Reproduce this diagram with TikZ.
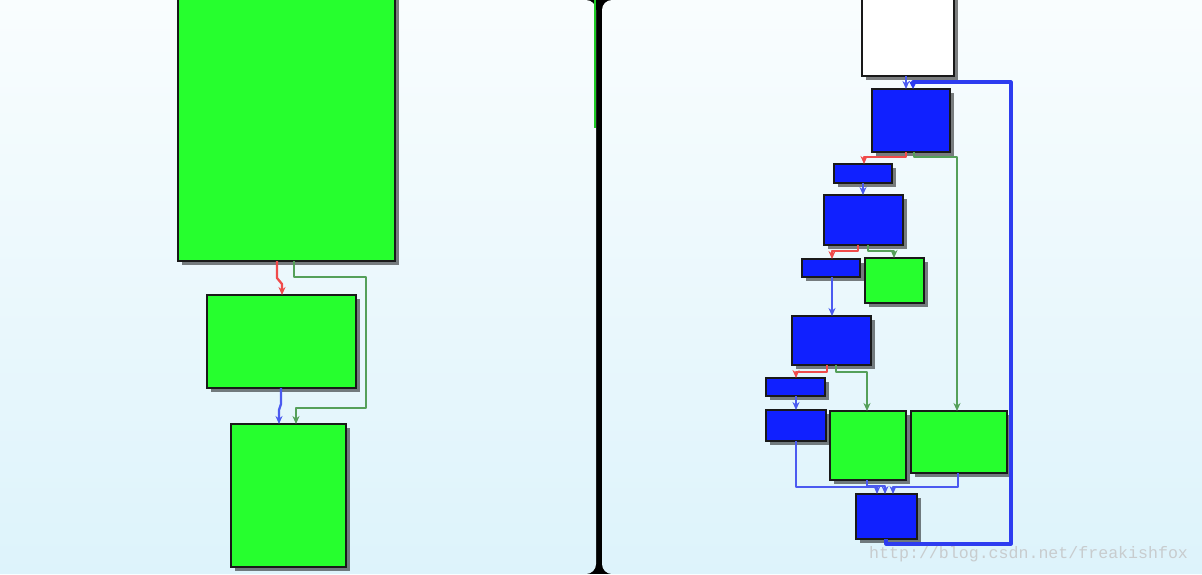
\documentclass[tikz,border=0pt]{standalone}
\usepackage{fontspec}
\newfontfamily\wmfont{Liberation Mono}
\usetikzlibrary{shadows,arrows.meta}
\definecolor{gfill}{RGB}{38,255,46}
\definecolor{bfill}{RGB}{16,32,255}
\definecolor{redE}{RGB}{240,75,75}
\definecolor{greenE}{RGB}{85,160,90}
\definecolor{blueE}{RGB}{75,90,240}
\definecolor{backE}{RGB}{45,60,240}
\definecolor{bgtop}{RGB}{249,253,254}
\definecolor{bgbot}{RGB}{221,243,251}
\definecolor{wm}{RGB}{200,204,206}
\begin{document}
\begin{tikzpicture}[x=1pt,y=-1pt,
  sz/.style 2 args={minimum width=#1pt,minimum height=#2pt},
  box/.style={draw=black!90,line width=2pt,inner sep=0pt,outer sep=0pt,
    drop shadow={shadow xshift=4pt,shadow yshift=-4pt,fill=black,opacity=0.5}},
  gbox/.style={box,fill=gfill},
  bbox/.style={box,fill=bfill},
  wbox/.style={box,fill=white},
  edge/.style={line width=2.3pt,line join=round,-{Stealth[length=8pt,width=7pt]}},
  redge/.style={edge,draw=redE,-{Stealth[length=8pt,width=7pt,fill=red!90!black]}},
  gedge/.style={edge,draw=greenE,-{Stealth[length=8pt,width=7pt,fill=green!45!black]}},
  bedge/.style={edge,draw=blueE,-{Stealth[length=8pt,width=7pt,fill=bfill]}},
  backedge/.style={edge,line width=3.2pt,draw=backE,-{Stealth[length=8pt,width=8pt]}}
]
\useasboundingbox (0,0) rectangle (1202,574);
% background
\fill[black] (0,0) rectangle (1202,574);
\shade[top color=bgtop,bottom color=bgbot,rounded corners=10pt] (-20,0) rectangle (596,574);
\shade[top color=bgtop,bottom color=bgbot,rounded corners=10pt] (602,0) rectangle (1222,574);
\draw[gfill!80!black,line width=1.6pt] (595,0) -- (595,128);

% left panel
\node[gbox,sz={217}{275}] (L1) at (286.5,123.5) {};
\node[gbox,sz={149}{93}] (L2) at (281.5,341.5) {};
\node[gbox,sz={115}{143}] (L3) at (288.5,495.5) {};

\draw[redge] ([xshift=-9.5pt]L1.south) -- (277,278) -- (282,284) -- ([xshift=0.5pt]L2.north);
\draw[gedge] ([xshift=7.5pt]L1.south) -- (294,277) -- (366,277) -- (366,408) -- (296,408) -- ([xshift=7.5pt]L3.north);
\draw[bedge] ([xshift=-0.5pt]L2.south) -- (281,404) -- (279,410) -- ([xshift=-9.5pt]L3.north);

% right panel
\node[wbox,sz={92}{88}] (W) at (908,32) {};
\node[bbox,sz={78}{63}] (B1) at (911,120.5) {};
\node[bbox,sz={58}{19}] (B2) at (863,173.5) {};
\node[bbox,sz={79}{50}] (B3) at (863.5,220) {};
\node[bbox,sz={58}{18}] (B4) at (831,268) {};
\node[gbox,sz={59}{45}] (G5) at (894.5,280.5) {};
\node[bbox,sz={79}{49}] (B6) at (831.5,340.5) {};
\node[bbox,sz={59}{18}] (B7) at (795.5,387) {};
\node[bbox,sz={60}{31}] (B8) at (796,425.5) {};
\node[gbox,sz={76}{69}] (G9) at (868,445.5) {};
\node[gbox,sz={96}{62}] (G10) at (959,442) {};
\node[bbox,sz={61}{45}] (B11) at (886.5,516.5) {};

\draw[bedge] ([xshift=-2pt]W.south) -- ([xshift=-5pt]B1.north);
\draw[backedge] ([xshift=-0.5pt]B11.south) -- (886,544) -- (1011,544) -- (1011,82) -- (913,82) -- ([xshift=2pt]B1.north);
\draw[redge] ([xshift=-5pt]B1.south) -- (906,157) -- (864,157) -- ([xshift=1pt]B2.north);
\draw[gedge] ([xshift=3pt]B1.south) -- (914,157) -- (957,157) -- ([xshift=-2pt]G10.north);
\draw[bedge] (B2.south) -- ([xshift=-0.5pt]B3.north);
\draw[redge] ([xshift=-5.5pt]B3.south) -- (858,251) -- (832,251) -- ([xshift=1pt]B4.north);
\draw[gedge] ([xshift=4.5pt]B3.south) -- (868,251) -- (894,251) -- ([xshift=-0.5pt]G5.north);
\draw[bedge] ([xshift=1pt]B4.south) -- ([xshift=0.5pt]B6.north);
\draw[redge] ([xshift=-4.5pt]B6.south) -- (827,372) -- (796,372) -- ([xshift=0.5pt]B7.north);
\draw[gedge] ([xshift=4.5pt]B6.south) -- (836,372) -- (867,372) -- ([xshift=-1pt]G9.north);
\draw[bedge] ([xshift=0.5pt]B7.south) -- (B8.north);
\draw[bedge] (B8.south) -- (796,487) -- (877,487) -- ([xshift=-9.5pt]B11.north);
\draw[bedge] ([xshift=-1pt]G9.south) -- (867,486) -- (885,486) -- ([xshift=-1.5pt]B11.north);
\draw[bedge] ([xshift=-1pt]G10.south) -- (958,487) -- (893,487) -- ([xshift=6.5pt]B11.north);

% watermark
\node[text=wm,font=\wmfont\fontsize{16.6}{18}\selectfont,anchor=west,inner sep=0pt] (wmk) at (869,554) {http://blog.csdn.net/freakishfox};
\end{tikzpicture}
\end{document}
